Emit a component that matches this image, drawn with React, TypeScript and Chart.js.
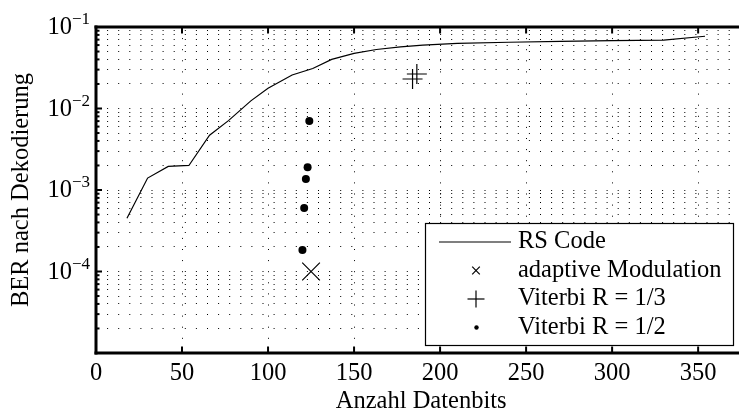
import React, { useEffect, useRef } from "react";
import { Chart, registerables } from "chart.js";

Chart.register(...registerables);

// ---- data ----
const rsBits = [18, 30, 42, 54, 66, 77, 90, 100, 114, 126, 137, 150, 163, 177, 190, 210, 240, 270, 300, 330, 354];
const rsBer = [4.5e-4, 1.4e-3, 1.95e-3, 2.0e-3, 4.7e-3, 7.1e-3, 1.24e-2, 1.77e-2, 2.58e-2, 3.1e-2, 4.0e-2, 4.75e-2, 5.3e-2, 5.7e-2, 6.0e-2, 6.3e-2, 6.5e-2, 6.65e-2, 6.8e-2, 6.9e-2, 7.7e-2];
const adaptBits = [125];
const adaptBer = [1.0e-4];
const vit13Bits = [184, 186.5];
const vit13Ber = [2.3e-2, 2.65e-2];
const vit12Bits = [124, 123, 122, 121, 120];
const vit12Ber = [7.0e-3, 1.9e-3, 1.36e-3, 6.0e-4, 1.84e-4];

const xTickValues = [0, 50, 100, 150, 200, 250, 300, 350];
const xMin = 0;
const xMax = 378;
const yMin = 1e-5;
const yMax = 1e-1;
const yDecades = [-5, -4, -3, -2, -1];
const yLabelValues = [1e-1, 1e-2, 1e-3, 1e-4];
const yLabelExponents = ["\u22121", "\u22122", "\u22123", "\u22124"];
const legendLabels = ["RS Code", "adaptive Modulation", "Viterbi R = 1/3", "Viterbi R = 1/2"];
const xTitle = "Anzahl Datenbits";
const yTitle = "BER nach Dekodierung";

const FONT = '"Liberation Serif", "Times New Roman", Times, serif';
const FS = 24.5;

const yGridValues: number[] = [];
yDecades.forEach((e) => {
  for (let m = 1; m <= 9; m++) {
    const v = m * Math.pow(10, e);
    if (v <= yMax * 1.0000001) yGridValues.push(v);
  }
});

const isDecade = (v: number) => {
  const l = Math.log10(v);
  return Math.abs(l - Math.round(l)) < 1e-9;
};

const toPts = (xs: number[], ys: number[]) => xs.map((x, i) => ({ x, y: ys[i] }));

const framePlugin = {
  id: "matlabFrame",
  afterDraw(chart: any) {
    const { ctx, chartArea: a, scales } = chart;
    const xs = scales.x;
    const ys = scales.y;
    const line = (x1: number, y1: number, x2: number, y2: number) => {
      ctx.beginPath();
      ctx.moveTo(x1, y1);
      ctx.lineTo(x2, y2);
      ctx.stroke();
    };
    ctx.save();
    ctx.strokeStyle = "#000";
    ctx.fillStyle = "#000";

    // legend
    const lx1 = 425.5, ly1 = 223.5, lx2 = 733.5, ly2 = 345.5;
    ctx.fillStyle = "#fff";
    ctx.fillRect(lx1, ly1, lx2 - lx1, ly2 - ly1);
    ctx.lineWidth = 1.2;
    ctx.strokeRect(lx1, ly1, lx2 - lx1, ly2 - ly1);
    const rows = [242, 270.5, 299, 327.5];
    const sx = 476;
    ctx.lineWidth = 1.2;
    line(439, rows[0], 511, rows[0]);
    const xr = 3.8;
    line(sx - xr, rows[1] - xr, sx + xr, rows[1] + xr);
    line(sx - xr, rows[1] + xr, sx + xr, rows[1] - xr);
    const pr = 8.5;
    line(sx - pr, rows[2], sx + pr, rows[2]);
    line(sx, rows[2] - pr, sx, rows[2] + pr);
    ctx.fillStyle = "#000";
    ctx.beginPath();
    ctx.arc(sx + 0.5, rows[3], 2.2, 0, Math.PI * 2);
    ctx.fill();
    ctx.font = `${FS}px ${FONT}`;
    ctx.textAlign = "left";
    ctx.textBaseline = "middle";
    legendLabels.forEach((t, i) => ctx.fillText(t, 518, rows[i]));

    // ticks
    ctx.lineWidth = 2;
    xTickValues.forEach((v) => {
      const px = xs.getPixelForValue(v);
      line(px, a.bottom, px, a.bottom - 6.5);
      line(px, a.top, px, a.top + 6.5);
    });
    yGridValues.forEach((v) => {
      const py = ys.getPixelForValue(v);
      line(a.left, py, a.left + (isDecade(v) ? 6 : 3.5), py);
    });

    // axes box
    ctx.lineWidth = 3;
    ctx.lineCap = "square";
    line(a.left, a.top, a.right + 20, a.top);
    line(a.left, a.top, a.left, a.bottom);
    line(a.left, a.bottom, a.right + 20, a.bottom);

    // y tick labels 10^-k
    yLabelValues.forEach((v, i) => {
      const py = ys.getPixelForValue(v);
      ctx.font = `${FS}px ${FONT}`;
      ctx.textAlign = "right";
      ctx.textBaseline = "middle";
      ctx.fillText("10", 72, py + 1);
      ctx.font = `17px ${FONT}`;
      ctx.textAlign = "left";
      ctx.textBaseline = "alphabetic";
      ctx.fillText(yLabelExponents[i], 72, py - 3);
    });
    ctx.restore();
  },
};

export default function App() {
  const ref = useRef<HTMLCanvasElement | null>(null);
  useEffect(() => {
    if (!ref.current) return;
    const chart = new Chart(ref.current, {
      type: "scatter",
      data: {
        datasets: [
          {
            label: legendLabels[0],
            data: toPts(rsBits, rsBer),
            showLine: true,
            borderColor: "#000",
            borderWidth: 1.2,
            pointRadius: 0,
            tension: 0,
          },
          {
            label: legendLabels[1],
            data: toPts(adaptBits, adaptBer),
            pointStyle: "crossRot",
            pointRadius: 12.5,
            borderColor: "#000",
            pointBorderWidth: 1.2,
            showLine: false,
          },
          {
            label: legendLabels[2],
            data: toPts(vit13Bits, vit13Ber),
            pointStyle: "cross",
            pointRadius: 10,
            borderColor: "#000",
            pointBorderWidth: 1.2,
            showLine: false,
          },
          {
            label: legendLabels[3],
            data: toPts(vit12Bits, vit12Ber),
            pointStyle: "circle",
            pointRadius: 4,
            backgroundColor: "#000",
            borderColor: "#000",
            pointBorderWidth: 0,
            showLine: false,
          },
        ],
      },
      options: {
        responsive: false,
        animation: false,
        devicePixelRatio: 1,
        layout: { padding: { top: 27, right: 12, left: 0, bottom: 0 } },
        plugins: { legend: { display: false }, tooltip: { enabled: false } },
        scales: {
          x: {
            type: "linear",
            min: xMin,
            max: xMax,
            afterBuildTicks: (s: any) => {
              s.ticks = xTickValues.map((v) => ({ value: v }));
            },
            afterFit: (s: any) => {
              s.height = 67;
            },
            ticks: {
              color: "#000",
              font: { family: FONT, size: FS },
              padding: 6,
              maxRotation: 0,
              autoSkip: false,
            },
            grid: {
              color: "#000",
              lineWidth: 1,
              drawTicks: false,
            },
            border: { display: false, dash: [1, 10.1], dashOffset: 0 },
            title: {
              display: true,
              text: xTitle,
              color: "#000",
              font: { family: FONT, size: FS },
              padding: { top: 0, bottom: 3.6 },
            },
          },
          y: {
            type: "logarithmic",
            min: yMin,
            max: yMax,
            afterBuildTicks: (s: any) => {
              s.ticks = yGridValues.map((v) => ({ value: v, major: isDecade(v) }));
            },
            afterFit: (s: any) => {
              s.width = 96;
            },
            ticks: { display: false, autoSkip: false },
            grid: {
              color: "#000",
              lineWidth: 1,
              drawTicks: false,
            },
            border: { display: false, dash: [1, 10.1], dashOffset: 0 },
            title: {
              display: true,
              text: yTitle,
              color: "#000",
              font: { family: FONT, size: FS },
              padding: { top: 7, bottom: 0 },
            },
          },
        },
      },
      plugins: [framePlugin],
    } as any);
    return () => chart.destroy();
  }, []);
  return (
    <div
      style={{
        position: "absolute",
        left: 0,
        top: 0,
        width: 739,
        height: 412,
        overflow: "hidden",
        background: "#fff",
      }}
    >
      <canvas ref={ref} width={760} height={420} style={{ display: "block", width: 760, height: 420 }} />
    </div>
  );
}
